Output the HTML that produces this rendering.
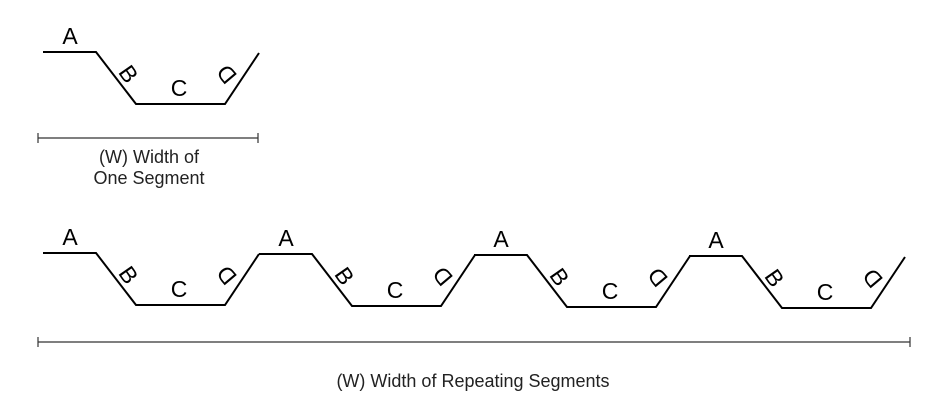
<!DOCTYPE html>
<html><head><style>body{margin:0;background:#fff}svg{display:block}</style></head>
<body>
<svg width="938" height="412" viewBox="0 0 938 412" xmlns="http://www.w3.org/2000/svg" font-family="Liberation Sans, sans-serif">
<defs>
<g id="seg">
<polyline points="43,0 96,0 136,52 225,52 259,1" fill="none" stroke="#000" stroke-width="2"/>
<text x="70" y="-8" font-size="23" text-anchor="middle">A</text>
<text transform="translate(127,23) rotate(55)" font-size="23" text-anchor="middle" dominant-baseline="middle">B</text>
<text x="179" y="44" font-size="23" text-anchor="middle">C</text>
<text transform="translate(228,21) rotate(-130)" font-size="23" text-anchor="middle" dominant-baseline="middle">D</text>
</g>
</defs>
<use href="#seg" x="0" y="52"/>
<line x1="38" y1="138" x2="258" y2="138" stroke="#333" stroke-width="1.2"/>
<line x1="38" y1="133" x2="38" y2="143" stroke="#333" stroke-width="1.2"/>
<line x1="258" y1="133" x2="258" y2="143" stroke="#333" stroke-width="1.2"/>
<text x="149" y="163" font-size="18" text-anchor="middle" fill="#222">(W) Width of</text>
<text x="149" y="184" font-size="18" text-anchor="middle" fill="#222">One Segment</text>

<use href="#seg" x="0" y="253"/>
<use href="#seg" x="216" y="254"/>
<use href="#seg" x="431" y="255"/>
<use href="#seg" x="646" y="256"/>
<line x1="38" y1="342" x2="910" y2="342" stroke="#333" stroke-width="1.2"/>
<line x1="38" y1="337" x2="38" y2="347" stroke="#333" stroke-width="1.2"/>
<line x1="910" y1="337" x2="910" y2="347" stroke="#333" stroke-width="1.2"/>
<text x="473" y="387" font-size="18" text-anchor="middle" fill="#222">(W) Width of Repeating Segments</text>
</svg>
</body></html>
